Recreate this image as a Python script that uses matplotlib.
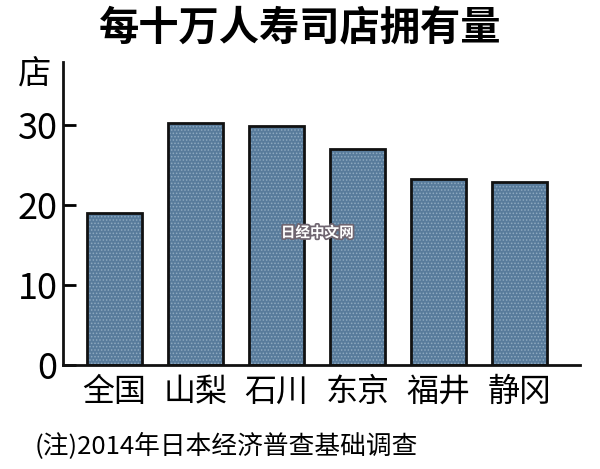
import matplotlib.pyplot as plt
import matplotlib.patheffects as pe

plt.rcParams['font.family'] = ['Noto Sans CJK SC', 'DejaVu Sans']
plt.rcParams['hatch.linewidth'] = 0.7

# 数据
regions = ['全国', '山梨', '石川', '东京', '福井', '静冈']
shops = [19.0, 30.3, 29.9, 27.0, 23.2, 22.9]
yticks = [0, 10, 20, 30]

fig = plt.figure(figsize=(6, 4.69), dpi=100)
ax = fig.add_axes([0.105, 0.222, 0.862, 0.646])

x = list(range(len(regions)))
# 填充+点状纹理，再叠一层黑色边框
ax.bar(x, shops, width=0.68, color='#587b9b', edgecolor='#8ea9c0',
       linewidth=0, hatch='.....', zorder=2)
ax.bar(x, shops, width=0.68, fill=False, edgecolor='#111111',
       linewidth=2, zorder=3)

ax.set_xlim(-0.636, 5.75)
ax.set_ylim(0, 37.9)
ax.set_yticks(yticks)
ax.set_yticklabels([str(v) for v in yticks], fontsize=26)
ax.set_xticks(x)
ax.set_xticklabels(regions, fontsize=23)
ax.tick_params(axis='y', direction='in', length=9, width=2, pad=4)
ax.tick_params(axis='x', length=0, pad=8)

for s in ['top', 'right']:
    ax.spines[s].set_visible(False)
for s in ['left', 'bottom']:
    ax.spines[s].set_linewidth(2)
    ax.spines[s].set_color('#111111')
    ax.spines[s].set_zorder(4)

fig.text(0.5, 0.94, '每十万人寿司店拥有量', ha='center', va='center',
         fontsize=29, fontweight='bold')
fig.text(0.057, 0.84, '店', ha='center', va='center', fontsize=24)
fig.text(0.058, 0.049, '(注)2014年日本经济普查基础调查', ha='left', va='center',
         fontsize=18.5)

# 水印
fig.text(0.529, 0.505, '日经中文网', ha='center', va='center', fontsize=10.5,
         fontweight='bold', color='white', zorder=5,
         path_effects=[pe.withStroke(linewidth=2.5, foreground='#6f6570')])

fig.savefig('out.png', dpi=100)
